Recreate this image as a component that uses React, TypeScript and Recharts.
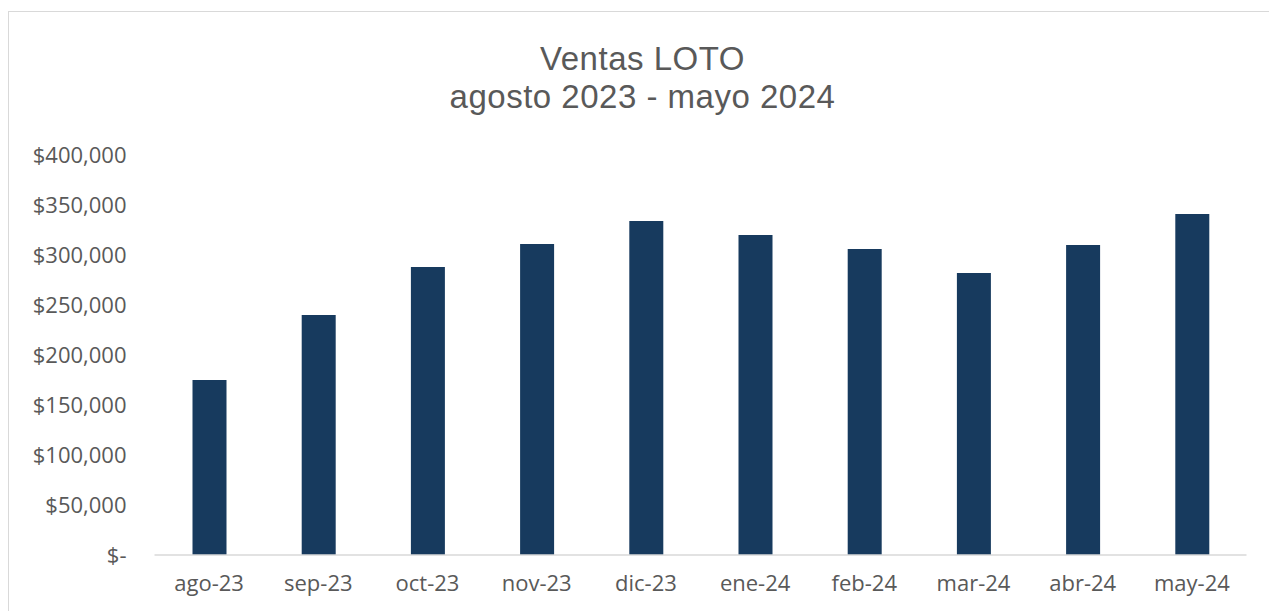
import { BarChart, Bar, XAxis, YAxis } from "recharts";

const months = ["ago-23", "sep-23", "oct-23", "nov-23", "dic-23", "ene-24", "feb-24", "mar-24", "abr-24", "may-24"];
const ventas = [175000, 240000, 288000, 311000, 334000, 320000, 306000, 282000, 310000, 341000];
const yTicks = [0, 50000, 100000, 150000, 200000, 250000, 300000, 350000, 400000];
const titleLines = ["Ventas LOTO", "agosto 2023 - mayo 2024"];

const FONT = '"Open Sans", "Noto Sans", sans-serif';
const TITLE_FONT = '"Liberation Sans", Arial, sans-serif';
const TEXT = "#595959";
const BAR = "#173A5E";

const formatMoney = (v: number) => (v === 0 ? "$-" : "$" + v.toLocaleString("en-US"));

export default function App() {
  const data = months.map((m, i) => ({ month: m, ventas: ventas[i] }));

  return (
    <div
      data-cmp="VentasLoto"
      style={{
        position: "relative",
        marginTop: 3,
        width: 1267,
        height: 640,
        border: "1px solid #d9d9d9",
        background: "#fff",
        fontFamily: FONT,
      }}
    >
      <style>{`html,body{overflow:hidden}`}</style>
      <div
        style={{
          position: "absolute",
          left: 0,
          top: 28,
          width: 1267,
          textAlign: "center",
          fontFamily: TITLE_FONT,
          fontSize: 33,
          letterSpacing: 0.5,
          lineHeight: "37.5px",
          color: TEXT,
          zIndex: 1,
        }}
      >
        {titleLines.map((t) => (
          <div key={t}>{t}</div>
        ))}
      </div>
      <BarChart
        width={1266}
        height={620}
        data={data}
        margin={{ top: 143, right: 28.5, bottom: 47, left: 0 }}
        barCategoryGap={0}
      >
        <XAxis
          dataKey="month"
          axisLine={{ stroke: "#d9d9d9", strokeWidth: 1.5 }}
          tickLine={false}
          tickSize={0}
          tickMargin={20}
          tick={{ fontSize: 22, fill: TEXT, fontFamily: FONT }}
          interval={0}
        />
        <YAxis
          width={145.5}
          domain={[0, 400000]}
          ticks={yTicks}
          axisLine={false}
          tickLine={false}
          tickSize={0}
          tickMargin={28}
          tickFormatter={formatMoney}
          tick={{ fontSize: 22, fill: TEXT, fontFamily: FONT }}
        />
        <Bar dataKey="ventas" fill={BAR} barSize={34} isAnimationActive={false} />
      </BarChart>
    </div>
  );
}
